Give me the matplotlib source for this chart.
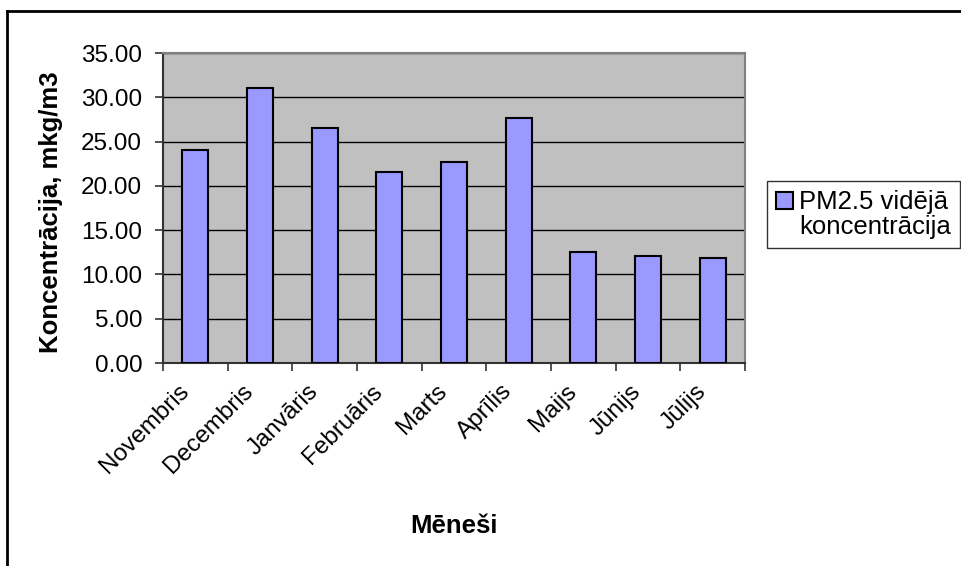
import numpy as np
import matplotlib
matplotlib.use("Agg")
import matplotlib.pyplot as plt
import matplotlib.transforms as mtransforms
from matplotlib.lines import Line2D
from matplotlib.patches import Rectangle
from matplotlib.legend_handler import HandlerPatch

plt.rcParams["font.family"] = ["Liberation Sans", "DejaVu Sans"]

months = ["Novembris", "Decembris", "Janvāris", "Februāris", "Marts",
          "Aprīlis", "Maijs", "Jūnijs", "Jūlijs"]
pm25 = [24.05, 31.08, 26.57, 21.6, 22.73, 27.7, 12.57, 12.08, 11.89]
yticks = [0, 5, 10, 15, 20, 25, 30, 35]

W, H = 962, 566
fig = plt.figure(figsize=(W / 100, H / 100), dpi=100)
ax = fig.add_axes([163 / W, 1 - 363 / H, (745 - 163) / W, (363 - 53) / H])

x = np.arange(len(months))
ax.set_facecolor("#C0C0C0")
bars = ax.bar(x, pm25, width=0.4, color="#9999FF", edgecolor="black", linewidth=1.5,
              zorder=3, label="PM2.5 vidējā\nkoncentrācija")

ax.set_xlim(-0.5, len(months) - 0.5)
ax.set_ylim(0, 35)
ax.set_yticks(yticks)
ax.set_yticklabels([f"{v:.2f}" for v in yticks], fontsize=17.5)
ax.yaxis.grid(True, color="black", linewidth=1, zorder=1)
ax.set_axisbelow(True)

# ticks at category boundaries, labels at category centres
ax.set_xticks(np.arange(len(months) + 1) - 0.5)
ax.set_xticklabels([])
ax.set_xticks(x, minor=True)
ax.set_xticklabels(months, minor=True, rotation=45, ha="right", va="center",
                   rotation_mode="anchor", fontsize=17.5)
ax.tick_params(axis="x", which="minor", length=0, pad=18)
ax.tick_params(axis="x", which="major", length=6, width=1.2, color="#333333", direction="out")
ax.tick_params(axis="y", length=6, width=1.2, color="#333333", direction="out", pad=9)

shift = mtransforms.ScaledTranslation(-10 / 100, 0, fig.dpi_scale_trans)
for lbl in ax.get_xticklabels(minor=True):
    lbl.set_transform(lbl.get_transform() + shift)

for s in ["left", "bottom"]:
    ax.spines[s].set_color("#333333")
    ax.spines[s].set_linewidth(1.5)
for s in ["top", "right"]:
    ax.spines[s].set_color("#808080")
    ax.spines[s].set_linewidth(1.5)

ax.set_ylabel("Koncentrācija, mkg/m3", fontsize=18.5, fontweight="bold")
ax.yaxis.set_label_coords((63 - 163) / (745 - 163), (363 - 212) / (363 - 53))
fig.text(454 / W, 1 - 526 / H, "Mēneši", fontsize=18.5, fontweight="bold",
         ha="center", va="center")


# legend square sits next to the first line of the label, like Excel
def first_line_patch(legend, orig_handle, xdescent, ydescent, width, height, fontsize):
    return Rectangle((-xdescent, -ydescent + 0.55 * fontsize), width, height)


leg = fig.legend(loc="lower left", bbox_to_anchor=(767 / W, 1 - 248 / H),
                 fontsize=18.5, frameon=True, fancybox=False, handlelength=0.65,
                 handleheight=0.65, handletextpad=0.25, borderpad=0.35,
                 borderaxespad=0,
                 handler_map={bars.patches[0]: HandlerPatch(patch_func=first_line_patch)},
                 handles=[bars.patches[0]], labels=["PM2.5 vidējā\nkoncentrācija"])
leg.get_frame().set_edgecolor("black")
leg.get_frame().set_linewidth(1)
for t in leg.get_texts():
    t.set_linespacing(1.05)

# outer chart border (left and top visible)
fig.add_artist(Line2D([7 / W, 7 / W], [0, 1 - 11 / H], color="black", linewidth=2))
fig.add_artist(Line2D([7 / W, 1], [1 - 11 / H, 1 - 11 / H], color="black", linewidth=2))

fig.savefig("out.png", dpi=100)
